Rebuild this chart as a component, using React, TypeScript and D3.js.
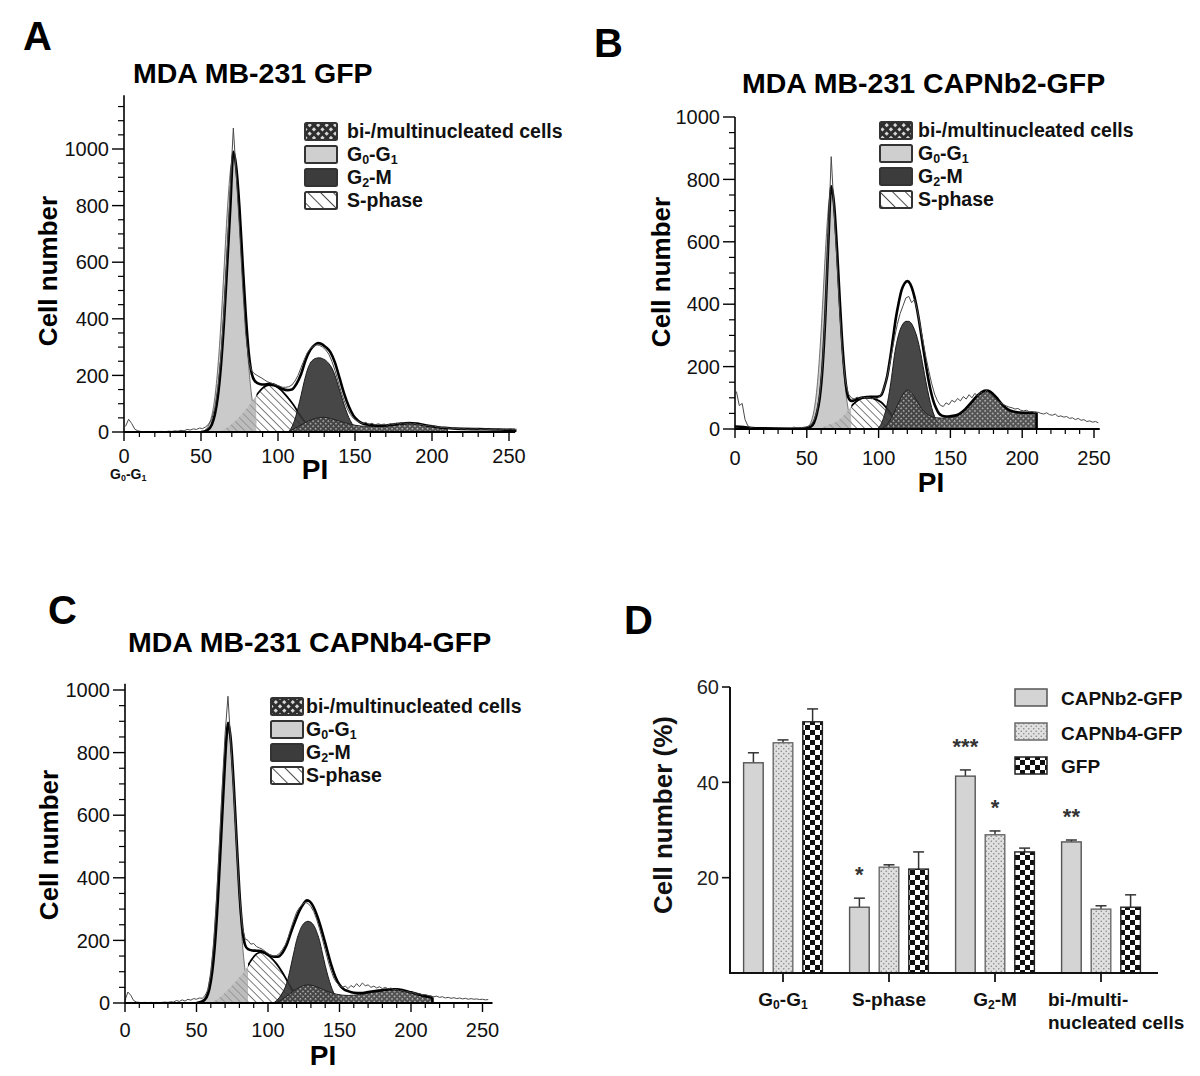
import React from "react";
import * as d3 from "d3";

type Pt = [number, number];

const FONT = "'Liberation Sans', Arial, Helvetica, sans-serif";

// ---------------- Panel A : MDA MB-231 GFP ----------------
const A_G0G1: Pt[] = [[51,0],[53,9],[55,25],[57,58],[59,123],[61,232],[63,389],[65,581],[67,775],[69,920],[71,975],[73,920],[75,775],[77,581],[79,389],[81,232],[83,123],[85,58],[87,25],[89,9],[91,0]];
const A_SPHASE: Pt[] = [[62,0],[66,12],[70,28],[74,48],[78,72],[82,100],[86,130],[90,155],[94,166],[98,163],[102,148],[106,124],[110,96],[114,62],[118,32],[122,10],[126,0]];
const A_G2M: Pt[] = [[107,0],[109,18],[111,45],[113,85],[115,130],[117,178],[119,218],[121,244],[123,256],[125,261],[127,262],[129,259],[131,253],[133,242],[135,226],[137,200],[139,165],[141,130],[143,95],[145,64],[147,40],[149,22],[151,10],[153,4],[155,0]];
const A_MULTI: Pt[] = [[106,0],[110,10],[114,22],[118,34],[122,44],[126,50],[130,52],[134,48],[138,42],[142,35],[146,29],[150,24],[154,21],[158,20],[162,20],[166,21],[170,22],[174,24],[178,27],[182,29],[186,30],[190,28],[194,25],[198,21],[202,18],[206,15],[210,13]];
const A_FIT: Pt[] = [[50,0],[54,6],[57,26],[59,62],[61,128],[63,238],[65,395],[67,590],[69,790],[71,990],[73,930],[75,790],[77,600],[79,420],[81,280],[83,205],[85,180],[88,170],[91,168],[94,170],[97,168],[100,160],[103,152],[106,148],[109,150],[112,170],[115,205],[118,255],[121,290],[124,308],[126,314],[128,312],[131,300],[134,282],[137,245],[140,190],[143,135],[146,90],[149,58],[152,40],[155,30],[160,25],[165,22],[170,23],[175,26],[180,30],[185,32],[190,30],[195,25],[200,20],[205,16],[210,14],[215,12],[220,11],[230,10],[240,9],[250,8],[254,8]];
const A_S_SPLIT = 86;
const A_RAW_START = 1;
const A_RAW: number[] = [20,45,30,10,4,2,1,2,1,2,1,2,2,1,3,2,4,3,6,4,9,7,11,9,14,12,18,28,45,85,160,270,430,640,860,1074,900,720,520,350,250,215,205,198,192,185,178,174,170,166,162,158,158,160,166,180,200,228,255,280,295,303,308,306,300,290,275,250,218,180,142,110,82,62,48,40,35,30,34,27,31,25,29,26,28,24,29,27,31,28,33,30,32,28,30,25,27,22,24,20,22,18,17,15,16,13,14,11,13,10,12,9,11,10,12,9,10,11,8,10,9,11,8,10,9,11,8,10];

// ---------------- Panel B : MDA MB-231 CAPNb2-GFP ----------------
const B_G0G1: Pt[] = [[49,0],[51,8],[53,23],[55,59],[57,128],[59,243],[61,400],[63,572],[65,708],[67,760],[69,708],[71,572],[73,400],[75,243],[77,128],[79,59],[81,23],[83,8],[85,0]];
const B_SPHASE: Pt[] = [[58,0],[62,8],[66,15],[70,22],[74,35],[78,55],[82,78],[86,93],[90,100],[94,100],[98,95],[102,85],[106,65],[110,40],[114,18],[118,5],[122,0]];
const B_G2M: Pt[] = [[99,0],[101,10],[103,30],[105,60],[107,105],[109,165],[111,235],[113,285],[115,318],[117,337],[119,345],[121,345],[123,337],[125,318],[127,290],[129,250],[131,200],[133,150],[135,105],[137,68],[139,40],[141,20],[143,8],[145,0]];
const B_MULTI: Pt[] = [[102,0],[106,15],[110,45],[114,85],[118,118],[120,125],[122,120],[124,110],[126,95],[128,80],[130,65],[132,55],[134,47],[136,42],[138,38],[140,36],[144,35],[148,36],[152,38],[156,45],[160,60],[164,80],[168,102],[172,118],[175,122],[178,118],[182,100],[186,78],[190,62],[194,55],[198,52],[202,52],[206,52],[210,52]];
const B_FIT: Pt[] = [[0,8],[6,6],[12,3],[20,2],[40,1],[50,3],[53,8],[55,20],[57,50],[59,100],[61,200],[63,370],[65,600],[67,778],[69,720],[71,580],[73,410],[75,255],[77,150],[79,100],[81,90],[83,92],[86,98],[90,102],[94,103],[98,103],[100,104],[102,110],[104,135],[106,170],[108,225],[110,290],[112,355],[114,405],[116,445],[118,466],[120,474],[122,465],[124,440],[126,402],[128,352],[130,292],[132,232],[134,176],[136,128],[138,92],[140,67],[142,50],[144,43],[147,40],[150,41],[153,43],[156,48],[160,62],[164,82],[168,103],[172,119],[175,123],[178,119],[182,101],[186,79],[190,63],[194,56],[198,53],[204,52],[210,52]];
const B_S_SPLIT = 81;
const B_RAW_START = 1;
const B_RAW: number[] = [120,75,82,30,10,4,2,2,1,2,1,2,1,2,2,1,2,2,3,2,6,4,3,5,6,9,14,28,55,110,210,380,620,873,700,540,370,230,150,112,100,96,102,98,104,99,102,97,100,98,106,122,150,190,240,290,335,370,395,420,425,405,415,380,330,280,230,185,145,112,90,76,72,84,78,92,86,98,90,104,96,110,100,114,106,120,110,124,112,104,96,88,84,78,74,70,68,64,66,60,58,60,55,56,52,54,50,48,52,46,44,48,40,42,38,40,34,36,30,34,28,30,24,26,22,24,20];

// ---------------- Panel C : MDA MB-231 CAPNb4-GFP ----------------
const C_G0G1: Pt[] = [[52,0],[54,8],[56,19],[58,47],[60,103],[62,197],[64,337],[66,510],[68,686],[70,820],[72,870],[74,820],[76,686],[78,510],[80,337],[82,197],[84,103],[86,47],[88,19],[90,8],[92,0]];
const C_SPHASE: Pt[] = [[60,0],[64,10],[68,25],[72,42],[76,62],[80,82],[84,105],[88,135],[92,157],[95,162],[98,158],[102,145],[106,125],[110,98],[114,66],[118,35],[122,12],[126,0]];
const C_G2M: Pt[] = [[104,0],[106,8],[108,18],[110,32],[112,50],[114,78],[116,118],[118,160],[120,200],[122,228],[124,248],[126,258],[128,261],[130,258],[132,248],[134,228],[136,200],[138,160],[140,120],[142,85],[144,55],[146,32],[148,16],[150,6],[152,0]];
const C_MULTI: Pt[] = [[104,0],[108,6],[112,18],[116,32],[120,45],[124,54],[128,58],[132,55],[136,48],[140,40],[144,33],[148,28],[152,25],[156,24],[160,25],[164,27],[168,30],[172,33],[176,37],[180,40],[184,42],[188,43],[192,41],[196,37],[200,32],[204,27],[208,22],[212,18],[215,16]];
const C_FIT: Pt[] = [[50,0],[54,5],[57,18],[59,45],[61,100],[63,195],[65,335],[67,510],[69,690],[71,850],[72,895],[74,840],[76,700],[78,525],[80,355],[82,240],[84,185],[86,172],[89,168],[92,167],[95,166],[98,160],[101,152],[104,148],[107,148],[110,160],[113,185],[116,225],[119,262],[122,295],[125,318],[127,328],[129,325],[132,305],[135,270],[138,225],[141,175],[144,125],[147,85],[150,58],[153,44],[156,38],[160,33],[165,32],[170,35],[175,38],[180,41],[185,44],[190,44],[195,40],[200,34],[205,28],[210,22],[215,18]];
const C_S_SPLIT = 86;
const C_RAW_START = 0;
const C_RAW: number[] = [8,35,25,8,3,2,1,2,1,2,1,2,1,2,3,2,4,3,8,5,10,6,12,9,14,12,16,15,24,42,95,190,330,505,690,860,980,830,680,510,350,245,205,200,188,190,180,176,172,165,158,152,150,152,158,170,185,208,238,265,290,305,315,322,318,308,292,268,238,205,170,135,105,80,65,56,50,54,46,56,50,62,52,64,55,58,50,54,48,52,46,50,45,48,42,44,38,40,35,36,32,33,28,30,26,27,24,22,20,22,18,20,16,18,15,17,14,16,13,15,12,14,12,13,11,12,10,11];

const PI_MAJOR = [0, 50, 100, 150, 200, 250];

// ---------------- Panel D : bar chart ----------------
const D_CATEGORIES = ["G0-G1", "S-phase", "G2-M", "bi-/multi-nucleated cells"];
const D_SERIES = ["CAPNb2-GFP", "CAPNb4-GFP", "GFP"];
const D_CAPNB2 = [44.1, 13.8, 41.3, 27.5];
const D_CAPNB2_ERR = [2.1, 1.9, 1.3, 0.4];
const D_CAPNB4 = [48.3, 22.2, 29.0, 13.4];
const D_CAPNB4_ERR = [0.6, 0.5, 0.8, 0.7];
const D_GFP = [52.7, 21.8, 25.4, 13.8];
const D_GFP_ERR = [2.7, 3.6, 0.8, 2.6];
const D_Y_TICKS = [20, 40, 60];
const D_STARS: { cat: string; series: string; label: string }[] = [
  { cat: "S-phase", series: "CAPNb2-GFP", label: "*" },
  { cat: "G2-M", series: "CAPNb2-GFP", label: "***" },
  { cat: "G2-M", series: "CAPNb4-GFP", label: "*" },
  { cat: "bi-/multi-nucleated cells", series: "CAPNb2-GFP", label: "**" },
];

type Part = [string, boolean];
const LBL_G0G1: Part[] = [["G", false], ["0", true], ["-G", false], ["1", true]];
const LBL_G2M: Part[] = [["G", false], ["2", true], ["-M", false]];

function RichText({ parts, x, y, fs, anchor = "start", weight = "bold", fill = "#111" }: any) {
  const sh = fs * 0.16;
  let sub = false;
  return (
    <text x={x} y={y} fontSize={fs} fontWeight={weight} textAnchor={anchor} fill={fill} fontFamily={FONT}>
      {parts.map(([t, isSub]: Part, i: number) => {
        let dy = 0;
        if (isSub && !sub) dy = sh;
        if (!isSub && sub) dy = -sh;
        sub = isSub;
        return (
          <tspan key={i} dy={dy} fontSize={isSub ? fs * 0.64 : fs}>
            {t}
          </tspan>
        );
      })}
    </text>
  );
}

function Defs() {
  return (
    <defs>
      <pattern id="hatchWhite" width="5.5" height="5.5" patternUnits="userSpaceOnUse" patternTransform="rotate(-45)">
        <rect width="5.5" height="5.5" fill="#fff" />
        <line x1="0" y1="0" x2="0" y2="5.5" stroke="#111" strokeWidth="1.1" />
      </pattern>
      <pattern id="hatchGray" width="5.5" height="5.5" patternUnits="userSpaceOnUse" patternTransform="rotate(-45)">
        <rect width="5.5" height="5.5" fill="#bdbdbd" />
        <line x1="0" y1="0" x2="0" y2="5.5" stroke="#7a7a7a" strokeWidth="1.1" />
      </pattern>
      <pattern id="hatchLegend" width="9" height="9" patternUnits="userSpaceOnUse" patternTransform="rotate(-45)">
        <rect width="9" height="9" fill="#fff" />
        <line x1="0" y1="0" x2="0" y2="9" stroke="#222" strokeWidth="1.6" />
      </pattern>
      <pattern id="biPat" width="3.6" height="3.6" patternUnits="userSpaceOnUse" patternTransform="rotate(45)">
        <rect width="3.6" height="3.6" fill="#444" />
        <rect width="1.5" height="1.5" fill="#c4c4c4" />
      </pattern>
      <pattern id="biLegend" width="6" height="6" patternUnits="userSpaceOnUse" patternTransform="rotate(45)">
        <rect width="6" height="6" fill="#2e2e2e" />
        <rect width="3" height="3" fill="#d8d8d8" />
      </pattern>
      <pattern id="dotPat" width="5" height="5" patternUnits="userSpaceOnUse">
        <rect width="5" height="5" fill="#e0e0e0" />
        <circle cx="1.25" cy="1.25" r="0.8" fill="#888" />
        <circle cx="3.75" cy="3.75" r="0.8" fill="#888" />
      </pattern>
      <pattern id="checkPat" width="10" height="10" patternUnits="userSpaceOnUse">
        <rect width="10" height="10" fill="#fff" />
        <rect width="5" height="5" fill="#111" />
        <rect x="5" y="5" width="5" height="5" fill="#111" />
      </pattern>
    </defs>
  );
}

function HistPanel({ id, d, L }: any) {
  const x = d3.scaleLinear().domain([0, 250]).range([L.x0, L.x250]);
  const y = d3.scaleLinear().domain([0, 1000]).range([L.y0, L.y1000]);
  const area = d3.area<Pt>().x((p) => x(p[0])).y0(y(0)).y1((p) => y(p[1])).curve(d3.curveMonotoneX);
  const line = d3.line<Pt>().x((p) => x(p[0])).y((p) => y(p[1])).curve(d3.curveMonotoneX);
  const rawPts: Pt[] = d.raw.map((v: number, i: number) => [d.rawStart + 2 * i, v] as Pt);
  const rawLine = d3.line<Pt>().x((p) => x(p[0])).y((p) => y(p[1]));
  const split = x(d.split);
  const fitLast = d.fit[d.fit.length - 1];
  const yMajor = d3.range(0, L.yTickTop + 1, 200);
  const yMinor = d3.range(0, L.yTickTop + 1, 50).filter((v) => v % 200 !== 0);
  const xMinor = d3.range(0, L.xEnd + 0.1, 10).filter((v) => v % 50 !== 0);
  return (
    <g>
      <defs>
        <clipPath id={`${id}-l`}>
          <rect x={0} y={0} width={split} height={1076} />
        </clipPath>
        <clipPath id={`${id}-r`}>
          <rect x={split} y={0} width={1200} height={1076} />
        </clipPath>
      </defs>
      <path d={area(d.g0g1) || ""} fill="#cacaca" stroke="#555" strokeWidth={0.8} />
      <path d={area(d.s) || ""} fill="url(#hatchGray)" clipPath={`url(#${id}-l)`} />
      <g clipPath={`url(#${id}-r)`}>
        <path d={area(d.s) || ""} fill="url(#hatchWhite)" />
        <path d={line(d.s) || ""} fill="none" stroke="#000" strokeWidth={1.8} />
      </g>
      <path d={area(d.g2m) || ""} fill="#333" fillOpacity={0.9} stroke="#1a1a1a" strokeWidth={1} />
      <path d={area(d.multi) || ""} fill="url(#biPat)" fillOpacity={0.92} stroke="#222" strokeWidth={1} />
      <path d={line(d.fit) || ""} fill="none" stroke="#000" strokeWidth={2.6} strokeLinejoin="round" />
      <line x1={x(fitLast[0])} x2={x(fitLast[0])} y1={y(fitLast[1])} y2={y(0)} stroke="#000" strokeWidth={2.6} />
      <path d={rawLine(rawPts) || ""} fill="none" stroke="#4a4a4a" strokeWidth={1} />
      {/* axes */}
      <line x1={x(0)} x2={x(0)} y1={y(0)} y2={y(L.yTop)} stroke="#000" strokeWidth={1.6} />
      <line x1={x(0)} x2={x(L.xEnd)} y1={y(0)} y2={y(0)} stroke="#000" strokeWidth={1.8} />
      {yMajor.map((v) => (
        <g key={"ym" + v}>
          <line x1={x(0) - 12} x2={x(0)} y1={y(v)} y2={y(v)} stroke="#000" strokeWidth={1.4} />
          <text x={x(0) - 15} y={y(v)} dy="0.36em" textAnchor="end" fontSize={20} fontFamily={FONT} fill="#111">
            {v}
          </text>
        </g>
      ))}
      {yMinor.map((v) => (
        <line key={"yn" + v} x1={x(0) - 6} x2={x(0)} y1={y(v)} y2={y(v)} stroke="#000" strokeWidth={1.2} />
      ))}
      {PI_MAJOR.map((v) => (
        <g key={"xm" + v}>
          <line x1={x(v)} x2={x(v)} y1={y(0)} y2={y(0) + 9} stroke="#000" strokeWidth={1.4} />
          <text x={x(v)} y={y(0) + L.xLabelDy} textAnchor="middle" fontSize={20} fontFamily={FONT} fill="#111">
            {v}
          </text>
        </g>
      ))}
      {xMinor.map((v) => (
        <line key={"xn" + v} x1={x(v)} x2={x(v)} y1={y(0)} y2={y(0) + 5} stroke="#000" strokeWidth={1.2} />
      ))}
      <HistLegend L={L.legend} />
    </g>
  );
}

function HistLegend({ L }: any) {
  const fills = ["url(#biLegend)", "#cfcfcf", "#3c3c3c", "url(#hatchLegend)"];
  const labels: any[] = [[["bi-/multinucleated cells", false]], LBL_G0G1, LBL_G2M, [["S-phase", false]]];
  return (
    <g>
      {fills.map((f, i) => (
        <g key={i}>
          <rect x={L.boxX} y={L.bases[i] - 15} width={32} height={17} fill={f} stroke="#333" strokeWidth={2} rx={1.5} />
          <RichText parts={labels[i]} x={L.textX} y={L.bases[i]} fs={19.5} />
        </g>
      ))}
    </g>
  );
}

function BarPanel() {
  const xb = d3.scaleBand<string>().domain(D_CATEGORIES).range([730, 1154]);
  const xs = d3.scalePoint<string>().domain(D_SERIES).range([-29.6, 29.6]);
  const y = d3.scaleLinear().domain([0, 60]).range([973, 687]);
  const bw = 19.6;
  const vals = [D_CAPNB2, D_CAPNB4, D_GFP];
  const errs = [D_CAPNB2_ERR, D_CAPNB4_ERR, D_GFP_ERR];
  const fills = ["#d4d4d4", "url(#dotPat)", "url(#checkPat)"];
  const strokes = ["#555", "#6a6a6a", "#222"];
  const cx = (c: string, s: string) => (xb(c) as number) + xb.bandwidth() / 2 + (xs(s) as number);
  return (
    <g>
      {D_SERIES.map((s, si) =>
        D_CATEGORIES.map((c, ci) => {
          const v = vals[si][ci];
          const e = errs[si][ci];
          const c0 = cx(c, s);
          return (
            <g key={s + c}>
              <line x1={c0} x2={c0} y1={y(v)} y2={y(v + e)} stroke="#333" strokeWidth={1.5} />
              <line x1={c0 - 5.5} x2={c0 + 5.5} y1={y(v + e)} y2={y(v + e)} stroke="#333" strokeWidth={1.5} />
              <rect x={c0 - bw / 2} y={y(v)} width={bw} height={y(0) - y(v)} fill={fills[si]} stroke={strokes[si]} strokeWidth={1.4} />
            </g>
          );
        })
      )}
      {D_STARS.map((st, i) => {
        const si = D_SERIES.indexOf(st.series);
        const ci = D_CATEGORIES.indexOf(st.cat);
        const top = y(vals[si][ci] + errs[si][ci]) - 28;
        return (
          <text key={i} x={cx(st.cat, st.series)} y={top + 12} textAnchor="middle" fontSize={22} fontWeight="bold" fontFamily={FONT} fill="#333">
            {st.label}
          </text>
        );
      })}
      {/* axes */}
      <line x1={730} x2={730} y1={y(0)} y2={y(60)} stroke="#111" strokeWidth={2} />
      <line x1={729} x2={1158} y1={y(0)} y2={y(0)} stroke="#111" strokeWidth={2} />
      {D_Y_TICKS.map((t) => (
        <g key={t}>
          <line x1={722} x2={730} y1={y(t)} y2={y(t)} stroke="#111" strokeWidth={1.6} />
          <text x={719} y={y(t)} dy="0.36em" textAnchor="end" fontSize={20} fontFamily={FONT} fill="#222">
            {t}
          </text>
        </g>
      ))}
      {D_CATEGORIES.map((c) => (
        <line key={c} x1={(xb(c) as number) + xb.bandwidth() / 2} x2={(xb(c) as number) + xb.bandwidth() / 2} y1={y(0)} y2={y(0) + 9} stroke="#111" strokeWidth={1.8} />
      ))}
      {(() => {
        const c = (k: number) => (xb(D_CATEGORIES[k]) as number) + xb.bandwidth() / 2;
        return (
          <g>
            <RichText parts={LBL_G0G1} x={c(0)} y={1006} fs={19} anchor="middle" />
            <RichText parts={[["S-phase", false]]} x={c(1)} y={1006} fs={19} anchor="middle" />
            <RichText parts={LBL_G2M} x={c(2)} y={1006} fs={19} anchor="middle" />
            <RichText parts={[["bi-/multi-", false]]} x={c(3) - 53} y={1006} fs={19} />
            <RichText parts={[["nucleated cells", false]]} x={c(3) - 53} y={1029} fs={19} />
          </g>
        );
      })()}
      <text transform="translate(672,815) rotate(-90)" textAnchor="middle" fontSize={26} fontWeight="bold" fontFamily={FONT} fill="#111">
        Cell number (%)
      </text>
      {/* legend */}
      {D_SERIES.map((s, i) => (
        <g key={s}>
          <rect x={1015} y={[689, 723, 757][i]} width={32} height={17} fill={fills[i]} stroke={strokes[i]} strokeWidth={1.5} />
          <text x={1061} y={[705, 740, 773][i]} fontSize={19} fontWeight="bold" fontFamily={FONT} fill="#111">
            {s}
          </text>
        </g>
      ))}
    </g>
  );
}

const LAYOUT_A = {
  x0: 124, x250: 509, y0: 432, y1000: 149, yTop: 1190, yTickTop: 1150, xEnd: 254, xLabelDy: 31,
  legend: { boxX: 305, textX: 347, bases: [138, 161, 184, 207] },
};
const LAYOUT_B = {
  x0: 735, x250: 1094, y0: 429, y1000: 117, yTop: 1000, yTickTop: 1000, xEnd: 254, xLabelDy: 36,
  legend: { boxX: 880, textX: 918, bases: [137, 160, 183, 206] },
};
const LAYOUT_C = {
  x0: 125, x250: 482.5, y0: 1003, y1000: 690, yTop: 1020, yTickTop: 1000, xEnd: 257, xLabelDy: 34,
  legend: { boxX: 271, textX: 306, bases: [713, 736, 759, 782] },
};

export default function App() {
  const A = { g0g1: A_G0G1, s: A_SPHASE, g2m: A_G2M, multi: A_MULTI, fit: A_FIT, raw: A_RAW, rawStart: A_RAW_START, split: A_S_SPLIT };
  const B = { g0g1: B_G0G1, s: B_SPHASE, g2m: B_G2M, multi: B_MULTI, fit: B_FIT, raw: B_RAW, rawStart: B_RAW_START, split: B_S_SPLIT };
  const C = { g0g1: C_G0G1, s: C_SPHASE, g2m: C_G2M, multi: C_MULTI, fit: C_FIT, raw: C_RAW, rawStart: C_RAW_START, split: C_S_SPLIT };
  const bold = { fontWeight: "bold" as const, fontFamily: FONT, fill: "#000" };
  return (
    <svg width={1200} height={1076} viewBox="0 0 1200 1076" style={{ position: "absolute", left: 0, top: 0, background: "#fff" }} fontFamily={FONT}>
      <rect width={1200} height={1076} fill="#fff" />
      <Defs />
      {/* panel letters */}
      <text x={23} y={50} fontSize={40} {...bold}>A</text>
      <text x={594} y={57} fontSize={40} {...bold}>B</text>
      <text x={48} y={624} fontSize={40} {...bold}>C</text>
      <text x={624} y={634} fontSize={40} {...bold}>D</text>
      {/* titles */}
      <text x={133} y={83} fontSize={28.5} {...bold}>MDA MB-231 GFP</text>
      <text x={742} y={93} fontSize={28.5} {...bold}>MDA MB-231 CAPNb2-GFP</text>
      <text x={128} y={652} fontSize={28.5} {...bold}>MDA MB-231 CAPNb4-GFP</text>

      <HistPanel id="pa" d={A} L={LAYOUT_A} />
      <HistPanel id="pb" d={B} L={LAYOUT_B} />
      <HistPanel id="pc" d={C} L={LAYOUT_C} />

      {/* axis titles */}
      <text transform="translate(57,271) rotate(-90)" textAnchor="middle" fontSize={26} {...bold}>Cell number</text>
      <text transform="translate(670,272) rotate(-90)" textAnchor="middle" fontSize={26} {...bold}>Cell number</text>
      <text transform="translate(58,845) rotate(-90)" textAnchor="middle" fontSize={26} {...bold}>Cell number</text>
      <text x={315} y={479} textAnchor="middle" fontSize={28} {...bold}>PI</text>
      <text x={931} y={492} textAnchor="middle" fontSize={28} {...bold}>PI</text>
      <text x={323} y={1065} textAnchor="middle" fontSize={28} {...bold}>PI</text>
      <RichText parts={LBL_G0G1} x={110} y={479} fs={14} />

      <BarPanel />
    </svg>
  );
}
